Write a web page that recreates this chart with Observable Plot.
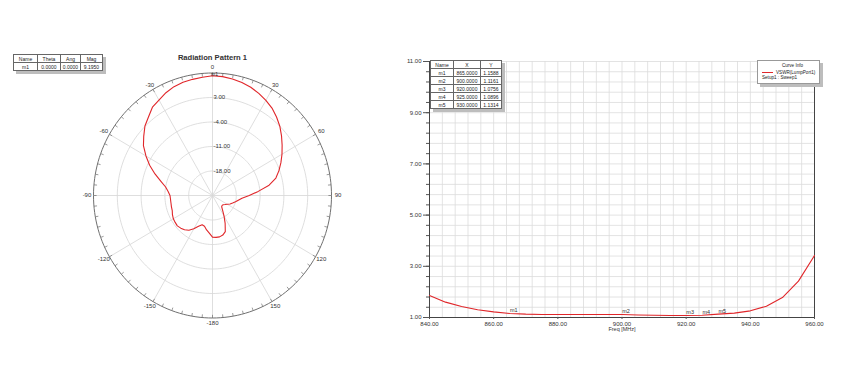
<!DOCTYPE html>
<html><head><meta charset="utf-8">
<script src="https://cdn.jsdelivr.net/npm/d3@7"></script>
<script src="https://cdn.jsdelivr.net/npm/@observablehq/plot@0.6"></script>
<style>
body{margin:0;background:#fff;font-family:"Liberation Sans",Arial,sans-serif;color:#222;}
#root{position:relative;width:848px;height:382px;overflow:hidden;background:#fff;}
.abs{position:absolute;}
table.mk{border-collapse:collapse;font-size:5px;background:#fff;box-shadow:3px 3px 0 #bdbdbd;table-layout:fixed;}
table.mk td{border:1px solid #666;text-align:center;padding:0;line-height:6px;overflow:hidden;white-space:nowrap;}
.ul{text-decoration:underline;}
#legend{border:1px solid #999;background:#fff;box-shadow:3px 3px 0 #bdbdbd;font-size:4.6px;width:61px;height:22px;}
</style></head>
<body><div id="root"></div>
<script>
// ---------- Radiation pattern data ----------
const thetaDeg = [-180,-175,-170,-165,-160,-155,-150,-145,-140,-135,-130,-125,-120,-115,-110,-105,-100,-95,-90,-85,-80,-75,-70,-65,-60,-55,-50,-45,-40,-35,-30,-25,-20,-15,-10,-5,0,5,10,15,20,25,30,35,40,45,50,55,60,65,70,75,80,85,90,95,100,105,110,115,120,125,130,135,140,145,150,155,160,165,170,175,180];
const gainDb = [-13.1,-14.2,-15.0,-15.9,-16.1,-15.3,-14.0,-12.9,-12.2,-11.8,-11.5,-11.6,-11.7,-12.0,-12.4,-12.5,-12.6,-12.6,-12.5,-11.9,-11.0,-9.3,-7.0,-4.6,-2.4,-0.2,1.4,3.1,4.3,5.8,6.5,7.4,8.1,8.5,8.7,8.9,9.2,9.1,8.8,8.4,7.9,7.2,6.4,5.5,4.3,3.0,1.5,0.0,-1.4,-2.8,-4.2,-5.7,-8.1,-11.5,-14.2,-16.3,-17.3,-18.0,-18.7,-19.3,-20.0,-20.5,-20.9,-21.0,-20.8,-19.8,-18.2,-16.2,-14.0,-13.3,-13.0,-13.0,-13.1];
const radialMin = -25, radialMax = 10;
const radialTicks = [-18, -11, -4, 3];
const radialTickLabels = ["-18.00", "-11.00", "-4.00", "3.00"];
const angleTicks = [0, 30, 60, 90, 120, 150, 180, -150, -120, -90, -60, -30];
const angleTickLabels = ["0", "30", "60", "90", "120", "150", "-180", "-150", "-120", "-90", "-60", "-30"];
const polarMarkerName = ["m1"];
const polarMarkerTheta = [0];
const polarMarkerMag = [9.1950];

// ---------- VSWR data ----------
const freqMHz = [840,845,850,855,860,865,870,875,880,885,890,895,900,905,910,915,920,925,930,935,940,945,950,955,960];
const vswr = [1.86,1.60,1.43,1.30,1.22,1.1588,1.13,1.12,1.12,1.12,1.12,1.12,1.1161,1.10,1.09,1.08,1.0756,1.0896,1.1314,1.17,1.26,1.44,1.78,2.42,3.42];
const markerNames = ["m1","m2","m3","m4","m5"];
const markerX = [865, 900, 920, 925, 930];
const markerY = [1.1588, 1.1161, 1.0756, 1.0896, 1.1314];
const xTicks = [840, 860, 880, 900, 920, 940, 960];
const yTicks = [1, 3, 5, 7, 9, 11];

const red = "#e0262a";
const root = document.getElementById("root");
const rad = d => d * Math.PI / 180;
const norm = v => (v - radialMin) / (radialMax - radialMin);
const px = (t, r) => r * Math.sin(rad(t));
const py = (t, r) => r * Math.cos(rad(t));

// ---------- Polar chart ----------
const pattern = thetaDeg.map((t, i) => ({t, v: gainDb[i]}));
const circAng = d3.range(0, 361, 2);
const circles = [];
radialTicks.concat([radialMax]).forEach(lv => circAng.forEach(a => circles.push({lv, a})));
const ringTicks = d3.range(0, 360, 5);
const cx = 212, cy = 195, rx = 119, ry = 122.5;

const polar = Plot.plot({
  width: 380, height: 382, margin: 0,
  x: {domain: [-1, 1], range: [cx - rx, cx + rx], axis: null},
  y: {domain: [-1, 1], range: [cy + ry, cy - ry], axis: null},
  style: {fontFamily: "Liberation Sans, Arial, sans-serif", background: "transparent"},
  marks: [
    Plot.line(circles.filter(d => d.lv !== radialMax), {x: d => px(d.a, norm(d.lv)), y: d => py(d.a, norm(d.lv)), z: "lv", stroke: "#d6d6d6", strokeWidth: 0.8}),
    Plot.link(angleTicks, {x1: 0, y1: 0, x2: t => px(t, 1), y2: t => py(t, 1), stroke: "#d6d6d6", strokeWidth: 0.8}),
    Plot.line(circles.filter(d => d.lv === radialMax), {x: d => px(d.a, 1), y: d => py(d.a, 1), stroke: "#707070", strokeWidth: 1}),
    Plot.link(ringTicks, {x1: t => px(t, 1), y1: t => py(t, 1), x2: t => px(t, 0.974), y2: t => py(t, 0.974), stroke: "#707070", strokeWidth: 0.7}),
    Plot.text(angleTicks, {x: t => px(t, 1.055), y: t => py(t, 1.045), text: (t, i) => angleTickLabels[i], fontSize: 6, fill: "#333"}),
    Plot.text(radialTicks, {x: 0, y: v => norm(v), text: (v, i) => radialTickLabels[i], textAnchor: "start", dx: 1, fontSize: 6, fill: "#333"}),
    Plot.line(pattern, {x: d => px(d.t, norm(d.v)), y: d => py(d.t, norm(d.v)), stroke: red, strokeWidth: 1.1, curve: "linear"}),
    Plot.text(polarMarkerName, {x: (d, i) => px(polarMarkerTheta[i], norm(polarMarkerMag[i])), y: (d, i) => py(polarMarkerTheta[i], norm(polarMarkerMag[i])), text: d => d, dx: 2, dy: -1, fontSize: 5, fill: "#222"})
  ]
});
polar.style.position = "absolute"; polar.style.left = "0px"; polar.style.top = "0px";
root.appendChild(polar);

// ---------- VSWR chart ----------
const vsData = freqMHz.map((f, i) => ({f, v: vswr[i]}));
const mkData = markerNames.map((n, i) => ({n, x: markerX[i], y: markerY[i]}));
const xGrid = d3.range(840, 961, 4);
const yGrid = d3.range(1, 11.001, 0.4);
const rect = Plot.plot({
  width: 468, height: 382, marginLeft: 49, marginRight: 34, marginTop: 61, marginBottom: 65,
  x: {domain: [840, 960]},
  y: {domain: [1, 11]},
  style: {fontFamily: "Liberation Sans, Arial, sans-serif", background: "transparent", color: "#333"},
  marks: [
    Plot.gridX(xGrid, {stroke: "#dcdcdc", strokeOpacity: 1, strokeWidth: 0.8}),
    Plot.gridY(yGrid, {stroke: "#dcdcdc", strokeOpacity: 1, strokeWidth: 0.8}),
    Plot.ruleX([840, 960], {stroke: "#444", strokeWidth: 1}),
    Plot.ruleY([1], {stroke: "#444", strokeWidth: 1}),
    Plot.axisY(yGrid, {tickSize: 3, tickFormat: () => "", stroke: "#555"}),
    Plot.axisY(yTicks, {tickSize: 6, tickPadding: 2, tickFormat: d => d.toFixed(2), fontSize: 6, label: null, stroke: "#555"}),
    Plot.axisX(xTicks, {tickSize: 2, tickPadding: 2, tickFormat: d => d.toFixed(2), fontSize: 6, label: null, stroke: "#555"}),
    Plot.line(vsData, {x: "f", y: "v", stroke: red, strokeWidth: 1.1}),
    Plot.text(mkData, {x: "x", y: "y", text: "n", dx: 4, dy: -3, fontSize: 5.5, fill: "#333"})
  ]
});
rect.style.position = "absolute"; rect.style.left = "380px"; rect.style.top = "0px";
root.appendChild(rect);

// ---------- HTML annotations ----------
function addDiv(html, css) { const d = document.createElement("div"); d.className = "abs"; d.innerHTML = html; Object.assign(d.style, css); root.appendChild(d); return d; }
addDiv("Radiation Pattern 1", {left: "150px", width: "125px", top: "53px", textAlign: "center", fontSize: "7.6px", fontWeight: "bold", color: "#333"});
addDiv("Freq [MHz]", {left: "582px", width: "80px", top: "326px", textAlign: "center", fontSize: "5.5px", color: "#333"});

const polarHeader = ["Name", "Theta", "Ang", "Mag"];
const polarRow = ["m1", "0.0000", "0.0000", "9.1950"];
const polarW = [24, 23, 20, 22];
let t1 = '<table class="mk"><colgroup>' + polarW.map(w => `<col style="width:${w}px">`).join("") + '</colgroup>';
t1 += '<tr style="height:8px">' + polarHeader.map(h => `<td>${h}</td>`).join("") + '</tr>';
t1 += '<tr style="height:8px">' + polarRow.map(h => `<td>${h}</td>`).join("") + '</tr></table>';
addDiv(t1, {left: "13px", top: "54px"});

const vsHeader = ["Name", "X", "Y"];
const vsW = [23, 27, 21];
let t2 = '<table class="mk"><colgroup>' + vsW.map(w => `<col style="width:${w}px">`).join("") + '</colgroup>';
t2 += '<tr style="height:8px">' + vsHeader.map(h => `<td>${h}</td>`).join("") + '</tr>';
markerNames.forEach((n, i) => {
  const cls = n === "m4" ? ' class="ul"' : '';
  t2 += `<tr style="height:8px"><td${cls}>${n}</td><td>${markerX[i].toFixed(4)}</td><td${cls}>${markerY[i].toFixed(4)}</td></tr>`;
});
t2 += '</table>';
addDiv(t2, {left: "430px", top: "60px"});

addDiv('<div style="text-align:center;margin-top:2px;margin-left:8px">Curve Info</div>' +
  `<div style="margin-top:2px;display:flex;align-items:center;white-space:nowrap"><span style="display:inline-block;width:11px;height:1px;background:${red};margin:0 3px 0 4px"></span>VSWR(LumpPort1)</div>` +
  '<div style="margin-left:4px;white-space:nowrap">Setup1 : Sweep1</div>', {left: "757px", top: "60px"}).id = "legend";
</script>
</body></html>
